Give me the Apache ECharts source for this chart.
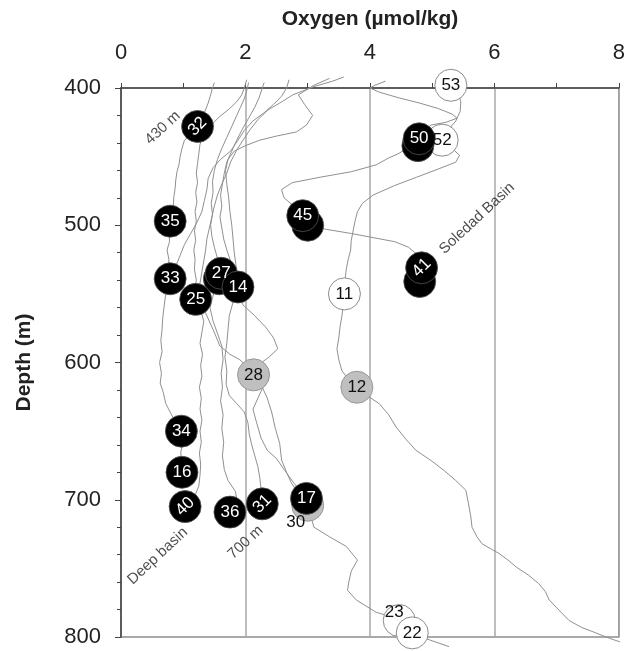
<!DOCTYPE html>
<html><head><meta charset="utf-8">
<script src="https://cdn.jsdelivr.net/npm/echarts@6/dist/echarts.min.js"></script>
<style>html,body{margin:0;padding:0;background:#fff}#c{width:628px;height:651px}</style>
</head><body><div id="c"></div>
<script>
// ---- axis ticks ----
const xTickValues = [0, 2, 4, 6, 8];
const yTickValues = [400, 500, 600, 700, 800];

// ---- oxygen profiles: [oxygen (umol/kg), depth (m)] ----
const profileA = [[1.50,396],[1.47,400],[1.44,405],[1.40,411],[1.34,418],[1.27,425],[1.15,433],[1.02,438],[0.98,444],[0.95,450],[0.93,456],[0.90,461],[0.88,467],[0.87,473],[0.85,479],[0.84,486],[0.81,492],[0.79,498],[0.77,505],[0.78,512],[0.74,518],[0.77,525],[0.76,532],[0.79,539],[0.74,546],[0.71,553],[0.69,560],[0.67,568],[0.66,576],[0.64,584],[0.66,592],[0.62,600],[0.65,608],[0.63,615],[0.68,622],[0.72,630],[0.80,637],[0.88,644],[0.97,650],[0.99,658],[0.96,666],[0.98,673],[0.98,680]];
const profileB = [[2.02,394],[1.98,400],[1.94,405],[1.86,410],[1.72,416],[1.58,421],[1.45,427],[1.33,434],[1.27,441],[1.25,448],[1.23,455],[1.21,462],[1.23,469],[1.20,476],[1.22,483],[1.19,490],[1.21,497],[1.18,504],[1.20,511],[1.17,518],[1.19,525],[1.18,532],[1.21,540],[1.19,547],[1.20,554],[1.28,562],[1.33,570],[1.30,578],[1.27,586],[1.31,594],[1.28,602],[1.30,610],[1.26,618],[1.29,626],[1.27,634],[1.30,642],[1.27,650],[1.29,658],[1.26,666],[1.28,674],[1.27,682],[1.25,690],[1.18,698],[1.03,705]];
const profileC = [[2.05,396],[2.02,402],[1.98,408],[1.92,414],[1.86,420],[1.78,428],[1.70,436],[1.62,444],[1.55,452],[1.50,460],[1.47,468],[1.48,476],[1.45,484],[1.47,492],[1.44,500],[1.46,508],[1.50,516],[1.55,524],[1.61,535],[1.50,548],[1.43,560],[1.48,570],[1.56,580],[1.62,588],[1.64,598],[1.61,608],[1.63,618],[1.60,628],[1.64,638],[1.62,648],[1.65,658],[1.63,668],[1.66,678],[1.72,686],[1.84,694],[1.86,700],[1.75,709]];
const profileD = [[2.30,396],[2.27,400],[2.22,407],[2.15,414],[2.05,422],[1.95,430],[1.86,438],[1.78,446],[1.70,454],[1.66,462],[1.63,470],[1.60,478],[1.62,486],[1.59,494],[1.62,502],[1.65,510],[1.70,518],[1.76,526],[1.82,534],[1.88,545],[1.80,556],[1.74,566],[1.72,576],[1.70,586],[1.67,596],[1.70,606],[1.69,616],[1.74,624],[1.86,630],[1.98,636],[2.04,644],[2.06,652],[2.10,660],[2.15,668],[2.20,676],[2.23,684],[2.25,692],[2.27,703]];
const profileE = [[3.35,393],[3.10,398],[2.85,405],[2.95,412],[3.08,420],[2.98,427],[2.82,432],[2.50,435],[2.23,438],[2.00,442],[1.82,446],[1.72,452],[1.68,460],[1.70,470],[1.73,480],[1.75,490],[1.78,500],[1.80,510],[1.82,520],[1.85,530],[1.90,540],[1.86,550],[1.96,558],[2.15,566],[2.32,574],[2.45,582],[2.52,590],[2.38,596],[2.20,602],[2.13,609],[2.28,618],[2.20,626],[2.12,634],[2.18,644],[2.25,655],[2.35,664],[2.50,670],[2.62,678],[2.78,688],[2.90,694],[2.98,699]];
const profileF = [[3.58,392],[3.40,395],[3.10,399],[2.76,405],[2.55,411],[2.36,416],[2.20,423],[2.08,430],[1.96,438],[1.85,446],[1.76,454],[1.70,462],[1.62,470],[1.55,478],[1.50,486],[1.46,494],[1.42,502],[1.38,510],[1.36,518],[1.33,526],[1.30,534],[1.27,542],[1.25,550],[1.30,558],[1.38,566],[1.48,576],[1.59,588],[1.75,594],[1.91,598],[2.05,604],[2.13,609],[2.25,616],[2.35,626],[2.42,636],[2.48,648],[2.55,659],[2.58,671],[2.66,680],[2.74,688],[2.86,696],[3.00,704],[3.05,712],[3.10,720],[3.35,727],[3.62,734],[3.80,744],[3.70,752],[3.66,760],[3.64,766],[3.78,773],[4.10,782],[4.40,786],[4.68,797],[4.95,802],[5.27,807]];
const profileG = [[2.70,394],[2.66,400],[2.58,406],[2.45,412],[2.30,418],[2.12,424],[1.98,431],[1.88,438],[1.76,446],[1.60,452],[1.48,458],[1.40,466],[1.38,474],[1.34,482],[1.30,490],[1.22,498],[1.12,506],[1.02,514],[0.95,522],[0.88,530],[0.79,539]];
const profileSoledad1 = [[4.25,395],[4.08,398],[4.00,400],[4.15,403],[4.45,407],[4.80,411],[5.10,415],[5.32,419],[5.40,422],[5.22,425],[4.98,427],[4.85,432],[4.79,438],[4.60,444],[4.45,448],[4.30,451],[4.10,456],[3.70,461],[3.20,465],[2.75,469],[2.58,474],[2.62,480],[2.80,487],[2.92,493],[3.00,500],[3.30,503],[3.70,506],[4.05,509],[4.40,512],[4.62,516],[4.75,521],[4.83,531],[4.80,541]];
const profileSoledad2 = [[5.30,398],[5.42,404],[5.46,410],[5.45,417],[5.38,424],[5.25,431],[5.16,438],[5.32,444],[5.44,449],[5.38,454],[5.10,459],[4.75,465],[4.40,471],[4.05,478],[3.88,484],[3.80,490],[3.76,497],[3.73,504],[3.70,511],[3.69,518],[3.65,525],[3.62,532],[3.60,540],[3.59,550],[3.57,558],[3.55,566],[3.52,574],[3.50,582],[3.47,590],[3.50,598],[3.55,606],[3.65,612],[3.79,618],[3.95,624],[4.15,630],[4.30,638],[4.42,647],[4.58,656],[4.74,664],[5.00,672],[5.20,679],[5.38,686],[5.54,693],[5.58,702],[5.62,712],[5.64,720],[5.72,727],[5.80,732],[5.95,736],[6.07,739],[6.22,744],[6.35,749],[6.55,755],[6.71,761],[6.82,767],[6.88,773],[7.05,781],[7.20,788],[7.40,793],[7.63,797],[7.85,801],[8.05,804]];
const profiles = [profileA, profileB, profileC, profileD, profileE, profileF, profileG, profileSoledad1, profileSoledad2];

// ---- stations (drawn in this order; '' = overlapped second sample) ----
const stationIds   = ['53','52','','50','32','35','','45','','41','11','33','','27','14','25','28','12','34','16','40','36','31','30','17','23','22'];
const stationO2    = [5.30,5.16,4.77,4.79,1.23,0.79,3.00,2.92,4.80,4.83,3.59,0.79,1.58,1.61,1.88,1.20,2.13,3.79,0.97,0.98,1.03,1.75,2.27,3.00,2.98,4.47,4.68];
const stationDepth = [398,438,442,437,428,497,500,493,541,531,550,539,539,535,545,554,609,618,650,680,705,709,703,704,699,788,797];
const stationKind  = ['white','white','black','black','black','black','black','black','black','black','white','black','black','black','black','black','gray','gray','black','black','black','black','black','gray','black','white','white'];

// ---- annotations ----
const annoText = ['430 m', 'Deep basin', '700 m', 'Soledad Basin'];
const annoO2 = [0.67, 0.59, 2.0, 5.72];
const annoDepth = [429, 741, 731, 495];

const rotatedIds = ['32','40','31','41'];
const FONT = '"Liberation Sans", Arial, Helvetica, sans-serif';

const kindStyle = {
  black: {color: '#000000', borderColor: '#555', borderWidth: 0.8, text: '#ffffff'},
  white: {color: '#ffffff', borderColor: '#8c8c8c', borderWidth: 1, text: '#111111'},
  gray:  {color: '#bfbfbf', borderColor: '#999999', borderWidth: 1, text: '#111111'}
};

const stationData = stationIds.map((id, i) => {
  const k = kindStyle[stationKind[i]];
  const item = {
    name: id,
    value: [stationO2[i], stationDepth[i]],
    itemStyle: {color: k.color, borderColor: k.borderColor, borderWidth: k.borderWidth, opacity: 1},
    label: {color: k.text}
  };
  if (rotatedIds.includes(id)) item.label.rotate = 45;
  if (id === '30') { item.label.offset = [-12, 17]; }
  if (id === '23') { item.label.offset = [-5, -8]; item.itemStyle.color = 'rgba(255,255,255,0.85)'; }
  return item;
});

const series = profiles.map(p => ({
  type: 'line', data: p, showSymbol: false, clip: false, silent: true,
  lineStyle: {color: '#909090', width: 1}, z: 2
}));
series.push({
  type: 'scatter', data: stationData, symbol: 'circle', symbolSize: 32, z: 5, clip: false,
  itemStyle: {opacity: 1},
  label: {show: true, position: 'inside', formatter: p => p.name, fontSize: 17, fontFamily: FONT}
});
series.push({
  type: 'scatter', symbolSize: 0, z: 6, clip: false,
  data: annoText.map((t, i) => ({name: t, value: [annoO2[i], annoDepth[i]]})),
  label: {show: true, position: 'inside', formatter: p => p.name, rotate: 43, fontSize: 15, color: '#222', fontFamily: FONT}
});

const chart = echarts.init(document.getElementById('c'), null, {renderer: 'canvas'});
chart.setOption({
  animation: false,
  backgroundColor: '#ffffff',
  grid: {left: 121, top: 88, right: 8, bottom: 14, show: true, borderColor: '#555', borderWidth: 1.2, containLabel: false},
  xAxis: {
    type: 'value', position: 'top', min: 0, max: 8, interval: 2,
    name: 'Oxygen (µmol/kg)', nameLocation: 'middle', nameGap: 58,
    nameTextStyle: {fontSize: 21, fontWeight: 'bold', color: '#222', fontFamily: FONT},
    axisLine: {show: true, lineStyle: {color: '#444', width: 1.5}},
    axisTick: {show: true, length: 5, lineStyle: {color: '#444'}},
    minorTick: {show: true, splitNumber: 2, length: 5, lineStyle: {color: '#444'}},
    axisLabel: {fontSize: 22, color: '#222', margin: 24, fontFamily: FONT,
      formatter: v => xTickValues.includes(v) ? String(v) : ''},
    splitLine: {show: true, lineStyle: {color: '#a8a8a8', width: 1.5}}
  },
  yAxis: {
    type: 'value', inverse: true, min: 400, max: 800, interval: 100,
    name: 'Depth (m)', nameLocation: 'middle', nameGap: 86,
    nameTextStyle: {fontSize: 21, fontWeight: 'bold', color: '#222', fontFamily: FONT},
    axisLine: {show: true, lineStyle: {color: '#444', width: 1.5}},
    axisTick: {show: true, length: 6, lineStyle: {color: '#444'}},
    minorTick: {show: true, splitNumber: 5, length: 4, lineStyle: {color: '#444'}},
    axisLabel: {fontSize: 22, color: '#222', margin: 20, fontFamily: FONT,
      formatter: v => yTickValues.includes(v) ? String(v) : ''},
    splitLine: {show: false}
  },
  series: series
});
</script>
</body></html>
